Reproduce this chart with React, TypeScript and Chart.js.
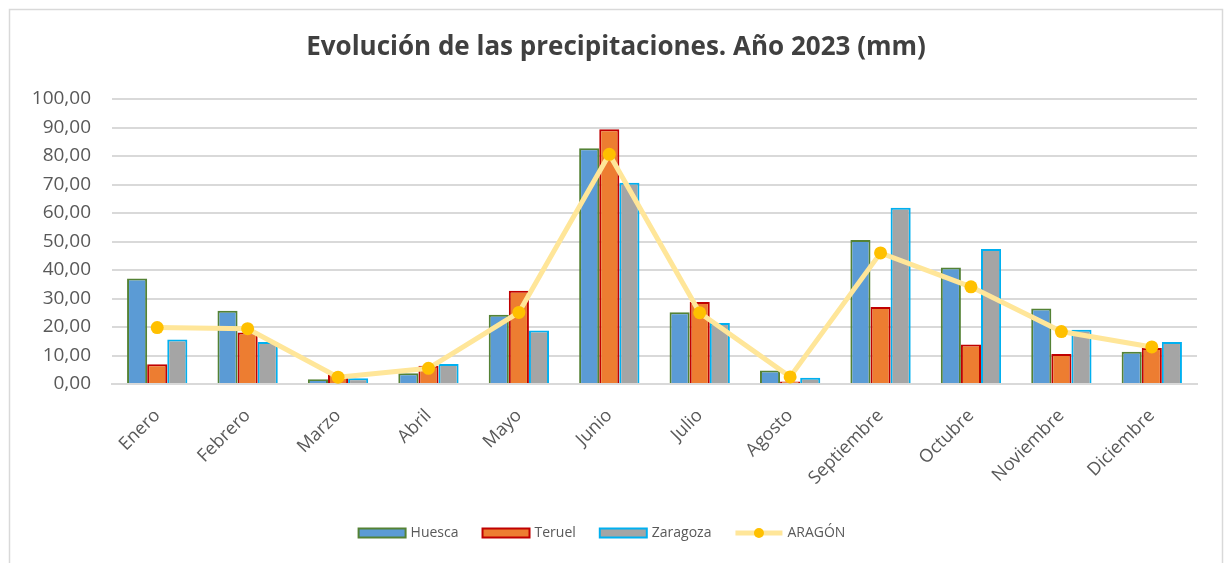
import React, { useEffect, useRef } from "react";
import { Chart, registerables } from "chart.js";

Chart.register(...registerables);

const months = ["Enero", "Febrero", "Marzo", "Abril", "Mayo", "Junio", "Julio", "Agosto", "Septiembre", "Octubre", "Noviembre", "Diciembre"];
const huesca = [37.0, 25.7, 1.7, 3.8, 24.3, 82.7, 25.2, 4.7, 50.5, 40.9, 26.5, 11.3];
const teruel = [6.9, 18.1, 3.3, 6.4, 32.7, 89.4, 28.8, 0.9, 27.0, 13.9, 10.5, 12.6];
const zaragoza = [15.6, 14.7, 2.0, 7.0, 18.8, 70.6, 21.4, 2.2, 61.8, 47.4, 19.0, 14.7];
const aragon = [19.8, 19.4, 2.4, 5.5, 25.1, 80.6, 25.0, 2.5, 46.0, 34.1, 18.4, 13.0];

const TITLE = "Evolución de las precipitaciones. Año 2023 (mm)";
const FONT = "'Open Sans', sans-serif";
const TEXT = "#595959";

const frameAndLegend = {
  id: "frameAndLegend",
  beforeDraw(chart: any) {
    const ctx = chart.ctx;
    ctx.save();
    ctx.fillStyle = "#ffffff";
    ctx.fillRect(0, 0, chart.width, chart.height);
    ctx.strokeStyle = "#d9d9d9";
    ctx.lineWidth = 1.5;
    ctx.strokeRect(9.5, 9.5, chart.width - 11, chart.height + 20);
    ctx.restore();
  },
  afterDraw(chart: any) {
    const ctx = chart.ctx;
    const ds = chart.data.datasets;
    ctx.save();
    // title
    ctx.font = `bold 26px ${FONT}`;
    ctx.fillStyle = "#404040";
    ctx.textAlign = "center";
    ctx.textBaseline = "middle";
    ctx.fillText(TITLE, 616, 48);
    // legend
    ctx.font = `14px ${FONT}`;
    const boxW = 47;
    const gapText = 5;
    const gapItem = 24;
    const widths = ds.map((d: any) => ctx.measureText(d.label).width);
    const total = widths.reduce((a: number, w: number) => a + boxW + gapText + w, 0) + gapItem * (ds.length - 1);
    let x = 602 - total / 2;
    const y = 533;
    ds.forEach((d: any, i: number) => {
      if (d.type === "line") {
        ctx.strokeStyle = d.borderColor;
        ctx.lineWidth = 5;
        ctx.beginPath();
        ctx.moveTo(x, y);
        ctx.lineTo(x + boxW, y);
        ctx.stroke();
        ctx.fillStyle = d.pointBackgroundColor;
        ctx.beginPath();
        ctx.arc(x + boxW / 2, y, 5, 0, Math.PI * 2);
        ctx.fill();
      } else {
        ctx.fillStyle = d.backgroundColor;
        ctx.fillRect(x, y - 4.5, boxW, 9);
        ctx.strokeStyle = d.borderColor;
        ctx.lineWidth = 2;
        ctx.strokeRect(x, y - 4.5, boxW, 9);
      }
      ctx.fillStyle = TEXT;
      ctx.textAlign = "left";
      ctx.fillText(d.label, x + boxW + gapText, y);
      x += boxW + gapText + widths[i] + gapItem;
    });
    ctx.restore();
  },
};

export default function App() {
  const ref = useRef<HTMLCanvasElement>(null);
  useEffect(() => {
    if (!ref.current) return;
    const chart = new Chart(ref.current, {
      type: "bar",
      data: {
        labels: months,
        datasets: [
          { label: "Huesca", data: huesca, backgroundColor: "#5B9BD5", borderColor: "#548235", borderWidth: 2, order: 1 },
          { label: "Teruel", data: teruel, backgroundColor: "#ED7D31", borderColor: "#C00000", borderWidth: 2, order: 1 },
          { label: "Zaragoza", data: zaragoza, backgroundColor: "#A5A5A5", borderColor: "#00B0F0", borderWidth: 2, order: 1 },
          { type: "line", label: "ARAGÓN", data: aragon, borderColor: "#FFE699", borderWidth: 5, pointBackgroundColor: "#FFC000", pointBorderColor: "#FFC000", pointRadius: 6.5, pointBorderWidth: 0, order: 0, tension: 0 } as any,
        ],
      },
      options: {
        animation: false,
        responsive: true,
        maintainAspectRatio: false,
        layout: { padding: { left: 0, right: 27, top: 99, bottom: 0 } },
        datasets: { bar: { categoryPercentage: 0.667, barPercentage: 1 } } as any,
        plugins: {
          legend: { display: false },
          tooltip: { enabled: false },
          title: { display: false },
        },
        scales: {
          x: {
            grid: { display: false, drawTicks: false },
            border: { display: true, color: "#d9d9d9", width: 2 },
            ticks: { color: TEXT, font: { family: FONT, size: 18 }, maxRotation: 45, minRotation: 45, padding: 21, autoSkip: false },
            afterFit: (s: any) => { s.height = 563 - 384; },
          },
          y: {
            min: 0,
            max: 100,
            grid: { color: "#d9d9d9", lineWidth: 2, drawTicks: false },
            border: { display: false },
            ticks: {
              stepSize: 10,
              color: TEXT,
              padding: 21,
              font: { family: FONT, size: 19 },
              callback: (v: any) => Number(v).toFixed(2).replace(".", ","),
            },
            afterFit: (s: any) => { s.width = 112; },
          },
        },
      },
      plugins: [frameAndLegend],
    });
    return () => chart.destroy();
  }, []);
  return (
    <div style={{ position: "fixed", left: 0, top: 0, width: 1224, height: 563 }}>
      <canvas ref={ref} />
    </div>
  );
}
